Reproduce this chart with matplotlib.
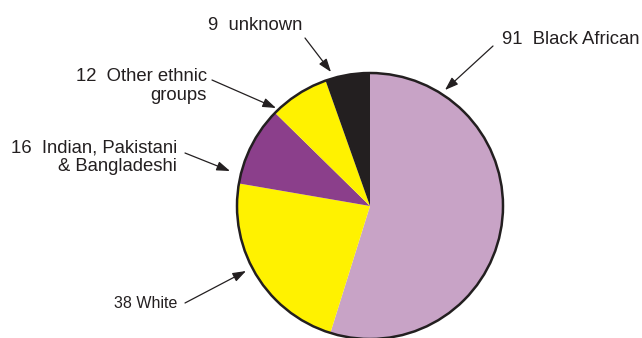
import matplotlib
matplotlib.use("Agg")
import matplotlib.pyplot as plt

categories = ["Black African", "White", "Indian, Pakistani\n& Bangladeshi", "Other ethnic\ngroups", "unknown"]
values = [91, 38, 16, 12, 9]
colors = ["#C8A3C6", "#FFF200", "#8B3F8B", "#FFF200", "#231F20"]
label_texts = ["91  Black African", "38 White", "16  Indian, Pakistani\n& Bangladeshi",
               "12  Other ethnic\ngroups", "9  unknown"]

W, H = 642, 338
fig = plt.figure(figsize=(W / 100, H / 100), dpi=100)
ax = fig.add_axes([0, 0, 1, 1])

cx, cy, r = 370, H - 206, 133
wedges, _ = ax.pie(values, colors=colors, startangle=90, counterclock=False,
                   center=(cx, cy), radius=r, frame=True,
                   wedgeprops=dict(linewidth=0))
ax.set_xlim(0, W)
ax.set_ylim(0, H)
ax.axis("off")
circle = plt.Circle((cx, cy), r, fill=False, edgecolor="#231F20", linewidth=1.8)
ax.add_patch(circle)

tc = "#231F20"
font = ["Liberation Sans", "DejaVu Sans"]
# (text xy in px top-origin, arrow start, arrow tip, ha, size)
ann = [
    (label_texts[0], (502, 39), (493, 46), (445, 90), "left", 13.3),
    (label_texts[1], (177, 303), (185, 303), (246, 271), "right", 11.5),
    (label_texts[2], (177, 157), (185, 153), (230, 171), "right", 13.3),
    (label_texts[3], (207, 86), (212, 80), (276, 108), "right", 13.3),
    (label_texts[4], (302, 26), (305, 38), (331, 72), "right", 13.3),
]
for txt, (tx, ty), (sx, sy), (ex, ey), ha, fs in ann:
    ax.text(tx, H - ty, txt, ha=ha, va="center", fontsize=fs, color=tc,
            family=font, linespacing=1.1, multialignment="right" if ha == "right" else "left")
    ax.annotate("", xy=(ex, H - ey), xytext=(sx, H - sy),
                arrowprops=dict(arrowstyle="-|>,head_length=0.8,head_width=0.28",
                                color=tc, lw=0.9, shrinkA=0, shrinkB=0))

fig.savefig("out.png", dpi=100)
